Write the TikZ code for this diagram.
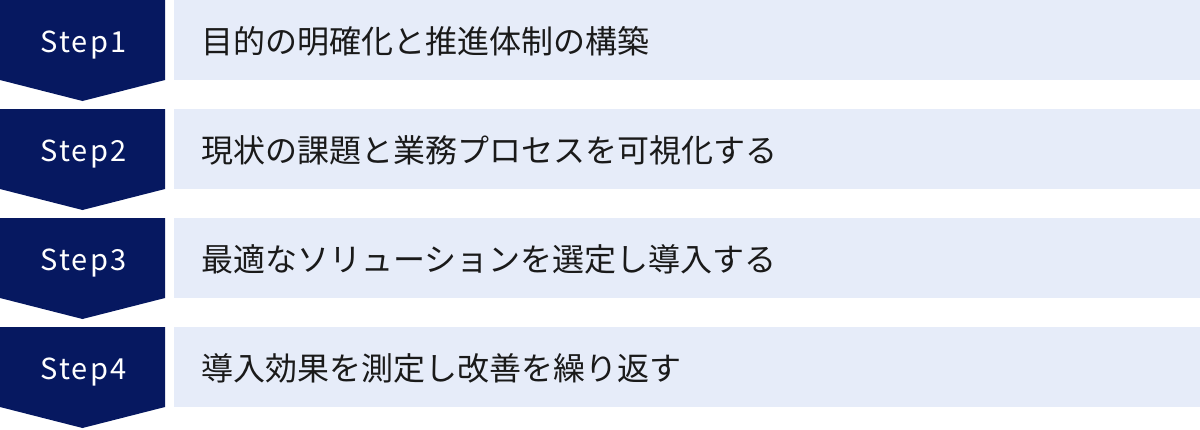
\documentclass[tikz,border=0pt]{standalone}
\usepackage{fontspec}
\newfontfamily\jp{Noto Sans CJK JP}
\newfontfamily\jpsp[LetterSpace=7]{Noto Sans CJK JP}
\definecolor{navy}{RGB}{6,24,96}
\definecolor{pale}{RGB}{230,236,249}
\definecolor{ink}{RGB}{26,26,26}
\tikzset{
  stepnum/.style={inner sep=0pt, anchor=base, text=white, font=\jpsp\fontsize{29}{29}\selectfont},
  steptext/.style={inner sep=0pt, anchor=west, text=ink, font=\jp\fontsize{32}{32}\selectfont},
  badge/.style={fill=navy},
  bar/.style={fill=pale}
}
\begin{document}
\begin{tikzpicture}[x=1pt,y=-1pt]
\useasboundingbox (0,0) rectangle (1200,429);
\foreach \i/\t in {1/目的の明確化と推進体制の構築,2/現状の課題と業務プロセスを可視化する,3/最適なソリューションを選定し導入する,4/導入効果を測定し改善を繰り返す}{
  \pgfmathsetmacro{\top}{(\i-1)*109}
  \fill[badge] (0,\top) -- (165,\top) -- (165,\top+80) -- (82.5,\top+101) -- (0,\top+80) -- cycle;
  \fill[bar] (174,\top) rectangle (1200,\top+80);
  \node[stepnum] (s\i) at (83.5,\top+52.5) {Step\i};
  \node[steptext] (t\i) at (201,\top+41) {\t};
}
\end{tikzpicture}
\end{document}
